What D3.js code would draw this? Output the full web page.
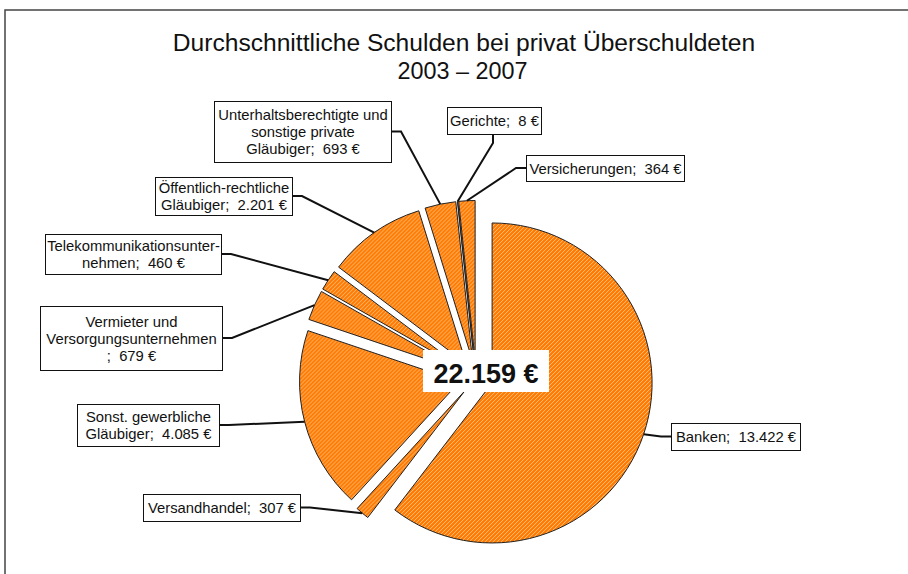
<!DOCTYPE html>
<html><head><meta charset="utf-8">
<script src="https://cdn.jsdelivr.net/npm/d3@7"></script>
<style>
html,body{margin:0;padding:0;background:#fff;}
text{font-family:"Liberation Sans",Arial,sans-serif;}
</style></head>
<body>
<svg id="chart" width="908" height="574"></svg>
<script>
// ---- data ----
const categories = ["Banken","Versandhandel","Sonst. gewerbliche Gläubiger","Vermieter und Versorgungsunternehmen","Telekommunikationsunternehmen","Öffentlich-rechtliche Gläubiger","Unterhaltsberechtigte und sonstige private Gläubiger","Gerichte","Versicherungen"];
const values = [13422, 307, 4085, 679, 460, 2201, 693, 8, 364];
const valueLabels = ["13.422 €","307 €","4.085 €","679 €","460 €","2.201 €","693 €","8 €","364 €"];
const labelLines = [
  ["Banken;  13.422 €"],
  ["Versandhandel;  307 €"],
  ["Sonst. gewerbliche","Gläubiger;  4.085 €"],
  ["Vermieter und","Versorgungsunternehmen",";  679 €"],
  ["Telekommunikationsunter-","nehmen;  460 €"],
  ["Öffentlich-rechtliche","Gläubiger;  2.201 €"],
  ["Unterhaltsberechtigte und","sonstige private","Gläubiger;  693 €"],
  ["Gerichte;  8 €"],
  ["Versicherungen;  364 €"]
];
const totalLabel = "22.159 €";
const titleLines = ["Durchschnittliche Schulden bei privat Überschuldeten","2003 – 2007"];

// ---- layout (label boxes: x,y,w,h ; anchor side) ----
const boxes = [
  {x:671,y:423,w:129,h:27, side:"left"},
  {x:143,y:494,w:157,h:27, side:"right"},
  {x:77, y:404,w:142,h:42, side:"right"},
  {x:40, y:306,w:182,h:64, side:"right"},
  {x:45, y:234,w:176,h:40, side:"right"},
  {x:155,y:177,w:137,h:38, side:"right"},
  {x:214,y:101,w:177,h:61, side:"right"},
  {x:447,y:107,w:94, h:27, side:"bottom"},
  {x:526,y:155,w:158,h:26, side:"left"}
];

const svg = d3.select("#chart");
const W = 908, H = 574;
const cx = 476, cy = 377.5, R = 160, explode = 17;

// hatch pattern
const defs = svg.append("defs");
const pat = defs.append("pattern").attr("id","hatch").attr("patternUnits","userSpaceOnUse")
  .attr("width",4).attr("height",4);
pat.append("rect").attr("width",4).attr("height",4).attr("fill","#FF7A00");
pat.append("path").attr("d","M-1,1 L1,-1 M0,4 L4,0 M3,5 L5,3")
  .attr("stroke","#FFD3A3").attr("stroke-width",0.8);

// frame
svg.append("path").attr("d",`M5,${H} L5,10 L${W},10`).attr("fill","none")
  .attr("stroke","#444").attr("stroke-width",1.5);

// title
const titleSizes = [24.6, 23.4];
svg.append("g").selectAll("text").data(titleLines).join("text")
  .attr("x",(d,i)=>i===0?464:462.5).attr("y",(d,i)=>51+i*28).attr("text-anchor","middle")
  .attr("font-size",(d,i)=>titleSizes[i]).attr("fill","#111").text(d=>d);

// pie
const pie = d3.pie().sort(null).value(d=>d)(values);
const arc = d3.arc().innerRadius(0).outerRadius(R);
const g = svg.append("g").attr("transform",`translate(${cx},${cy})`);
g.selectAll("path").data(pie).join("path")
  .attr("transform",d=>{const a=(d.startAngle+d.endAngle)/2;return `translate(${explode*Math.sin(a)},${-explode*Math.cos(a)})`;})
  .attr("d",arc).attr("fill","url(#hatch)").attr("stroke","#222").attr("stroke-width",1);

// leader lines + labels
const lg = svg.append("g");
pie.forEach((d,i)=>{
  const a=(d.startAngle+d.endAngle)/2;
  const px = cx + (explode+R)*Math.sin(a), py = cy - (explode+R)*Math.cos(a);
  const b = boxes[i];
  let pts;
  if(b.side==="left"){const ay=b.y+b.h/2; pts=[[px,py],[b.x-10,ay],[b.x,ay]];}
  else if(b.side==="right"){const ay=b.y+b.h/2; pts=[[px,py],[b.x+b.w+10,ay],[b.x+b.w,ay]];}
  else {const ax=b.x+b.w-48+0; pts=[[px,py],[ax,b.y+b.h+9],[ax,b.y+b.h]];}
  lg.append("path").attr("d",d3.line()(pts)).attr("fill","none").attr("stroke","#111").attr("stroke-width",2);
  lg.append("rect").attr("x",b.x+0.5).attr("y",b.y+0.5).attr("width",b.w).attr("height",b.h)
    .attr("fill","#fff").attr("stroke","#111").attr("stroke-width",1);
  const lines = labelLines[i];
  const lh = 17;
  const t0 = b.y + b.h/2 - (lines.length-1)*lh/2 + 5.5;
  lines.forEach((s,j)=>{
    lg.append("text").attr("x",b.x+b.w/2+0.5).attr("y",t0+j*lh).attr("text-anchor","middle")
      .attr("font-size",14.8).attr("fill","#111").style("white-space","pre").text(s);
  });
});

// center total
svg.append("rect").attr("x",423).attr("y",350).attr("width",126).attr("height",42).attr("fill","#fff");
svg.append("text").attr("x",486).attr("y",383).attr("text-anchor","middle")
  .attr("font-size",27).attr("font-weight","bold").attr("fill","#111").text(totalLabel);
</script>
</body></html>
